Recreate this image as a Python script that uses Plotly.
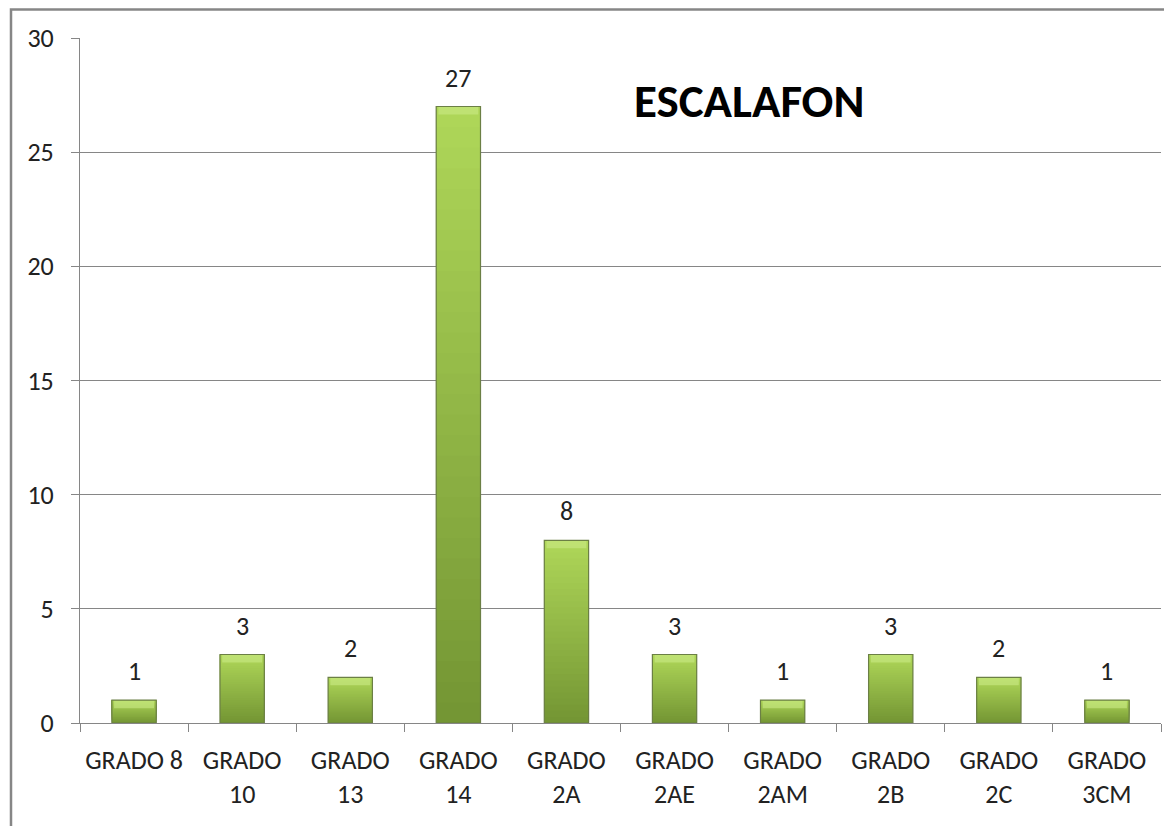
import plotly.graph_objects as go

categories = ["GRADO 8", "GRADO<br>10", "GRADO<br>13", "GRADO<br>14", "GRADO<br>2A",
              "GRADO<br>2AE", "GRADO<br>2AM", "GRADO<br>2B", "GRADO<br>2C", "GRADO<br>3CM"]
values = [1, 3, 2, 27, 8, 3, 1, 3, 2, 1]
y_ticks = [0, 5, 10, 15, 20, 25, 30]
title_text = "ESCALAFON"

FONT = "Carlito, Open Sans, sans-serif"
TOP_RGB = (174, 214, 88)
BOT_RGB = (116, 150, 52)
N_STEPS = 30
BAR_W = 0.41
BEVEL = 0.35   # light band at the top of each bar, in axis units

# page body has an 8px margin, so the figure starts at (8, 8)
OFF = 8
W, H = 1164, 818
L, R, T, B = 72, 11, 30, 103
pw, ph = W - L - R, H - T - B

fig = go.Figure()

# vertical gradient inside each bar: overlapping slices, dark at base -> light at top
for k in range(N_STEPS):
    f = k / (N_STEPS - 1)
    rgb = tuple(round(BOT_RGB[c] + (TOP_RGB[c] - BOT_RGB[c]) * f) for c in range(3))
    fig.add_trace(go.Bar(
        x=categories,
        y=[v * (1 - k / N_STEPS) for v in values],
        base=[v * k / N_STEPS for v in values],
        width=BAR_W,
        marker=dict(color="rgb(%d,%d,%d)" % rgb, line=dict(width=0)),
        hoverinfo="skip",
        showlegend=False,
    ))

# bevel highlight on top
fig.add_trace(go.Bar(
    x=categories, y=[BEVEL] * len(values), base=[v - BEVEL for v in values],
    width=BAR_W * 0.9,
    marker=dict(color="rgba(200,232,130,0.65)", line=dict(width=0)),
    hoverinfo="skip", showlegend=False,
))

# outline of each bar
fig.add_trace(go.Bar(
    x=categories, y=values, width=BAR_W,
    marker=dict(color="rgba(0,0,0,0)", line=dict(color="#6b7f45", width=1.2)),
    showlegend=False,
))

# data labels
for c, v in zip(categories, values):
    fig.add_annotation(x=c, y=v, text=str(v), showarrow=False, yanchor="bottom",
                       yshift=11, font=dict(family=FONT, size=26, color="#222222"))

# title
fig.add_annotation(x=(749 - OFF - L) / pw, y=1 + (T + OFF - 101) / ph,
                   xref="paper", yref="paper",
                   text="<b>%s</b>" % title_text, showarrow=False,
                   xanchor="center", yanchor="middle",
                   font=dict(family=FONT, size=47, color="#000000"))

# chart border (left and top edges)
bx = (11 - OFF - L) / pw
by_top = 1 + (T - 1.5) / ph
by_bot = -(B + 5) / ph
fig.add_shape(type="path", xref="paper", yref="paper",
              path="M %f,%f L %f,%f L %f,%f" % (bx, by_bot, bx, by_top, 1 + (R + 5) / pw, by_top),
              line=dict(color="#868686", width=2.5))

fig.update_layout(
    width=W, height=H,
    margin=dict(l=L, r=R, t=T, b=B),
    paper_bgcolor="white", plot_bgcolor="white",
    barmode="overlay",
    font=dict(family=FONT, size=26, color="#222222"),
    xaxis=dict(
        type="category", range=[-0.5, len(categories) - 0.5],
        showline=True, linecolor="#868686", linewidth=1,
        ticks="outside", tickson="boundaries", ticklen=8, tickcolor="#868686",
        showgrid=False, ticklabelstandoff=14,
        tickfont=dict(family=FONT, size=26, color="#222222"),
    ),
    yaxis=dict(
        range=[0, 30], tickvals=y_ticks,
        showline=True, linecolor="#868686", linewidth=1,
        ticks="outside", ticklen=8, tickcolor="#868686",
        showgrid=True, gridcolor="#868686", gridwidth=1,
        zeroline=False, ticklabelstandoff=12,
        tickfont=dict(family=FONT, size=26, color="#222222"),
    ),
)

fig.write_html("out.html")
